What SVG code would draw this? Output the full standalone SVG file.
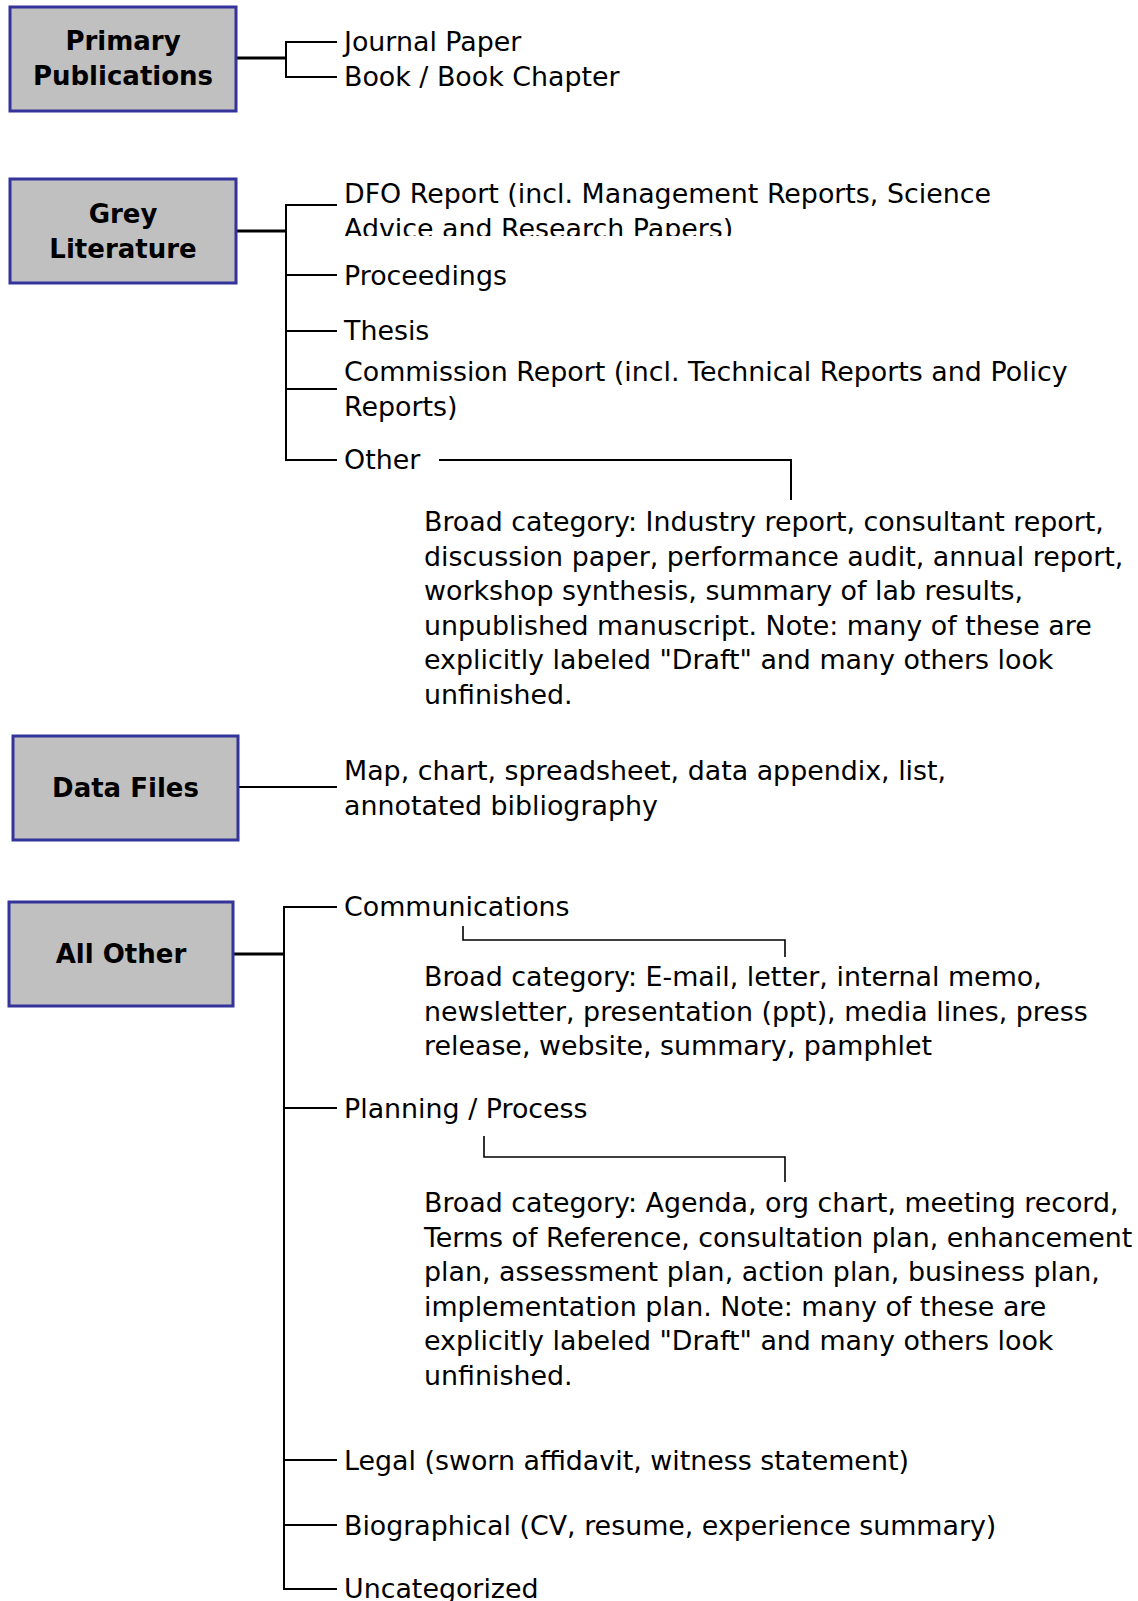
<svg xmlns="http://www.w3.org/2000/svg" width="1138" height="1601" viewBox="0 0 1138 1601">
<style>
.box{fill:#c0c0c0;stroke:#33339a;stroke-width:3}
.title{font-family:"DejaVu Sans",Verdana,"Liberation Sans",sans-serif;font-weight:bold;font-size:26px;fill:#000;text-anchor:middle}
.lbl{font-family:"DejaVu Sans",Verdana,"Liberation Sans",sans-serif;font-size:26.85px;fill:#000}
.ln{fill:none;stroke:#000;stroke-width:2}
.trunk{fill:none;stroke:#000;stroke-width:3}
.thin{fill:none;stroke:#000;stroke-width:1.6}
</style>
<defs>
<clipPath id="clipDfo"><rect x="330" y="170" width="800" height="66"/></clipPath>
</defs>
<rect width="1138" height="1601" fill="#fff"/>

<g id="connectors">
<line class="trunk" x1="237" y1="58" x2="286" y2="58"/>
<path class="ln" d="M337 42 H286 V77 H337"/>

<line class="trunk" x1="237" y1="231" x2="286" y2="231"/>
<path class="ln" d="M337 205 H286 V460 H337"/>
<line class="ln" x1="286" y1="275" x2="337" y2="275"/>
<line class="ln" x1="286" y1="331" x2="337" y2="331"/>
<line class="ln" x1="286" y1="389" x2="337" y2="389"/>
<path class="ln" d="M439 460 H791 V500"/>

<line class="ln" x1="239" y1="787" x2="337" y2="787"/>

<line class="trunk" x1="234" y1="954" x2="284" y2="954"/>
<path class="ln" d="M337 907 H284 V1589 H337"/>
<line class="ln" x1="284" y1="1108" x2="337" y2="1108"/>
<line class="ln" x1="284" y1="1460" x2="337" y2="1460"/>
<line class="ln" x1="284" y1="1525" x2="337" y2="1525"/>
<path class="thin" d="M463 926 V940 H785 V957"/>
<path class="thin" d="M484 1136 V1157 H785 V1182"/>
</g>

<g id="primary">
<rect class="box" x="10" y="7" width="226" height="104"/>
<text class="title" x="123" y="50">Primary</text>
<text class="title" x="123" y="85">Publications</text>
</g>
<g id="primary-items">
<text class="lbl" x="344" y="51">Journal Paper</text>
<text class="lbl" x="344" y="86">Book / Book Chapter</text>
</g>

<g id="grey">
<rect class="box" x="10" y="179" width="226" height="104"/>
<text class="title" x="123" y="223">Grey</text>
<text class="title" x="123" y="258">Literature</text>
</g>
<g id="grey-items">
<g clip-path="url(#clipDfo)">
<text class="lbl" x="344" y="203">DFO Report (incl. Management Reports, Science</text>
<text class="lbl" x="344" y="237.5">Advice and Research Papers)</text>
</g>
<text class="lbl" x="344" y="285">Proceedings</text>
<text class="lbl" x="344" y="340">Thesis</text>
<text class="lbl" x="344" y="381">Commission Report (incl. Technical Reports and Policy</text>
<text class="lbl" x="344" y="415.5">Reports)</text>
<text class="lbl" x="344" y="469">Other</text>
</g>
<g id="other-note">
<text class="lbl" x="424" y="531">Broad category: Industry report, consultant report,</text>
<text class="lbl" x="424" y="565.5">discussion paper, performance audit, annual report,</text>
<text class="lbl" x="424" y="600">workshop synthesis, summary of lab results,</text>
<text class="lbl" x="424" y="634.5">unpublished manuscript. Note: many of these are</text>
<text class="lbl" x="424" y="669">explicitly labeled "Draft" and many others look</text>
<text class="lbl" x="424" y="703.5">unfinished.</text>
</g>

<g id="data">
<rect class="box" x="13" y="736" width="225" height="104"/>
<text class="title" x="125.5" y="797">Data Files</text>
</g>
<g id="data-items">
<text class="lbl" x="344" y="780">Map, chart, spreadsheet, data appendix, list,</text>
<text class="lbl" x="344" y="814.5">annotated bibliography</text>
</g>

<g id="allother">
<rect class="box" x="9" y="902" width="224" height="104"/>
<text class="title" x="121" y="963">All Other</text>
</g>
<g id="allother-items">
<text class="lbl" x="344" y="916">Communications</text>
<text class="lbl" x="344" y="1118">Planning / Process</text>
<text class="lbl" x="344" y="1469.5">Legal (sworn affidavit, witness statement)</text>
<text class="lbl" x="344" y="1535">Biographical (CV, resume, experience summary)</text>
<text class="lbl" x="344" y="1598">Uncategorized</text>
</g>
<g id="comm-note">
<text class="lbl" x="424" y="986">Broad category: E-mail, letter, internal memo,</text>
<text class="lbl" x="424" y="1020.5">newsletter, presentation (ppt), media lines, press</text>
<text class="lbl" x="424" y="1055">release, website, summary, pamphlet</text>
</g>
<g id="plan-note">
<text class="lbl" x="424" y="1212">Broad category: Agenda, org chart, meeting record,</text>
<text class="lbl" x="424" y="1246.5">Terms of Reference, consultation plan, enhancement</text>
<text class="lbl" x="424" y="1281">plan, assessment plan, action plan, business plan,</text>
<text class="lbl" x="424" y="1315.5">implementation plan. Note: many of these are</text>
<text class="lbl" x="424" y="1350">explicitly labeled "Draft" and many others look</text>
<text class="lbl" x="424" y="1384.5">unfinished.</text>
</g>
</svg>
